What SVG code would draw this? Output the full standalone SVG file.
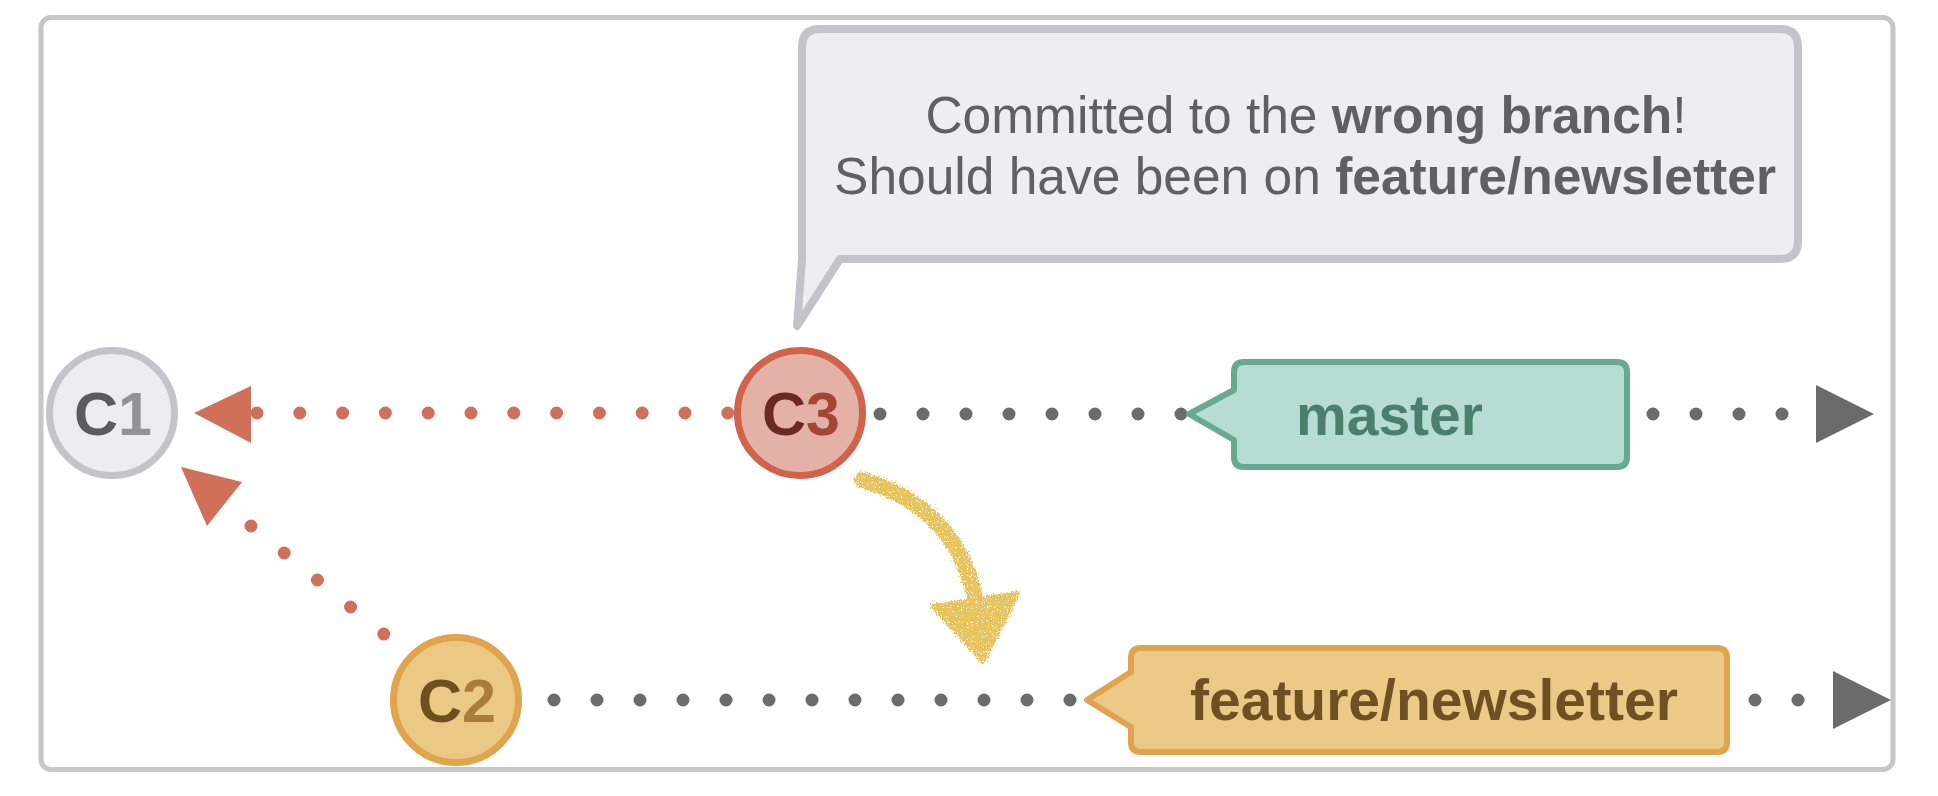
<svg xmlns="http://www.w3.org/2000/svg" width="1938" height="796" viewBox="0 0 1938 796">
<style>
  text { font-family: "Liberation Sans", Arial, sans-serif; }
  .commit { font-size: 61px; font-weight: bold; }
  .lbl { font-size: 57px; font-weight: bold; }
  .bub { font-size: 51.5px; fill: #5f6063; }
  .dots-red { stroke: #d0705a; stroke-width: 13; stroke-linecap: round; stroke-dasharray: 0 42.8; fill: none; }
  .dots-gray { stroke: #6b6b6b; stroke-width: 13; stroke-linecap: round; stroke-dasharray: 0 43; fill: none; }
</style>
<defs>
  <filter id="chalk" x="-20%" y="-20%" width="140%" height="140%">
    <feTurbulence type="fractalNoise" baseFrequency="0.8" numOctaves="2" seed="3" result="n"/>
    <feDisplacementMap in="SourceGraphic" in2="n" scale="8" xChannelSelector="R" yChannelSelector="G" result="d"/>
    <feTurbulence type="fractalNoise" baseFrequency="1.2" numOctaves="1" seed="7" result="s"/>
    <feColorMatrix in="s" type="matrix" values="0 0 0 0 0  0 0 0 0 0  0 0 0 0 0  0 0 0 -9 6.5" result="m"/>
    <feComposite in="d" in2="m" operator="in"/>
  </filter>
</defs>
<rect x="0" y="0" width="1938" height="796" fill="#ffffff"/>
<rect id="frame" x="41" y="17.5" width="1852" height="752" rx="10" fill="none" stroke="#c6c6c6" stroke-width="5"/>

<g id="connectors">
  <line class="dots-red" x1="257" y1="413" x2="729" y2="413"/>
  <polygon points="194,413 251,386 251,443" fill="#d07058"/>
  <line class="dots-red" x1="251" y1="526" x2="385" y2="635"/>
  <polygon points="181,467 242,482 207,526" fill="#d07058"/>
  <line class="dots-gray" x1="880" y1="414" x2="1182" y2="414"/>
  <line class="dots-gray" x1="1653" y1="414" x2="1783" y2="414"/>
  <polygon points="1816,385 1874,414 1816,443" fill="#6b6b6b"/>
  <line class="dots-gray" x1="554" y1="700" x2="1071" y2="700"/>
  <line class="dots-gray" x1="1755" y1="700" x2="1799" y2="700"/>
  <polygon points="1833,671 1891,700 1833,729" fill="#6b6b6b"/>
</g>

<g id="bubble">
  <path d="M 820 29 L 1780 29 Q 1798 29 1798 47 L 1798 241 Q 1798 259 1780 259 L 840 259 L 797 326 L 802 259 L 802 47 Q 802 29 820 29 Z" fill="#edeef2" stroke="#c1c4c9" stroke-width="8" stroke-linejoin="round"/>
  <text class="bub" x="1306" y="133" text-anchor="middle">Committed to the <tspan font-weight="bold">wrong branch</tspan>!</text>
  <text class="bub" x="1305" y="194" text-anchor="middle">Should have been on <tspan font-weight="bold">feature/newsletter</tspan></text>
</g>

<g id="c1">
  <circle cx="112" cy="413" r="62.5" fill="#ecedf1" stroke="#c1c4c8" stroke-width="7"/>
  <text class="commit" x="113" y="435" text-anchor="middle"><tspan fill="#5a5b5e">C</tspan><tspan fill="#909296">1</tspan></text>
</g>

<g id="c3">
  <circle cx="800" cy="413" r="62.5" fill="#e4b1a6" stroke="#d0634a" stroke-width="7"/>
  <text class="commit" x="801" y="435" text-anchor="middle"><tspan fill="#6a2a20">C</tspan><tspan fill="#a54535">3</tspan></text>
</g>

<g id="c2">
  <circle cx="456" cy="700" r="62.5" fill="#eac985" stroke="#e0a54c" stroke-width="7"/>
  <text class="commit" x="457" y="722" text-anchor="middle"><tspan fill="#6e5020">C</tspan><tspan fill="#a87c3a">2</tspan></text>
</g>

<g id="master">
  <path d="M 1244 362 L 1617 362 Q 1627 362 1627 372 L 1627 457 Q 1627 467 1617 467 L 1244 467 Q 1234 467 1234 457 L 1234 440 L 1189 414 L 1234 390 L 1234 372 Q 1234 362 1244 362 Z" fill="#b6dcd3" stroke="#68aa8d" stroke-width="6" stroke-linejoin="round"/>
  <text class="lbl" x="1296" y="435" fill="#4a7f6c">master</text>
</g>

<g id="feature">
  <path d="M 1141 648 L 1717 648 Q 1727 648 1727 658 L 1727 742 Q 1727 752 1717 752 L 1141 752 Q 1131 752 1131 742 L 1131 727 L 1087 700 L 1131 672 L 1131 658 Q 1131 648 1141 648 Z" fill="#ebc986" stroke="#e0a44e" stroke-width="6" stroke-linejoin="round"/>
  <text class="lbl" x="1190" y="720" fill="#6e5023">feature/newsletter</text>
</g>

<g id="move-arrow" filter="url(#chalk)">
  <path d="M 862 480 C 912 494 962 528 976 602" fill="none" stroke="#e6c35c" stroke-width="16" stroke-linecap="round"/>
  <polygon points="932,606 1018,593 983,662" fill="#e6c35c" stroke="#e6c35c" stroke-width="4" stroke-linejoin="round"/>
</g>
</svg>
